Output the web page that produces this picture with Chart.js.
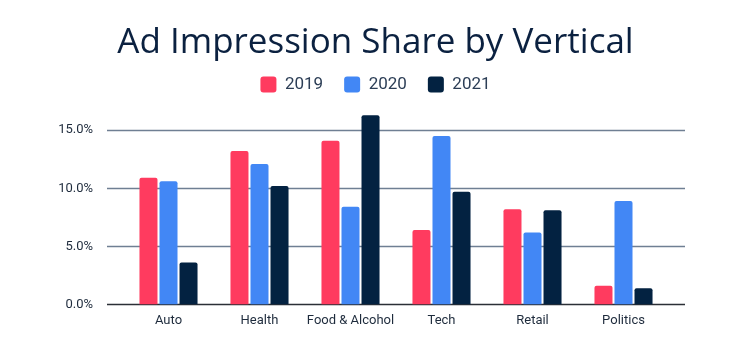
<!DOCTYPE html>
<html>
<head>
<meta charset="utf-8">
<script src="https://cdn.jsdelivr.net/npm/chart.js@4/dist/chart.umd.min.js"></script>
<style>
  body { margin: 0; background: #fff; }
  #wrap { width: 751px; height: 350px; }
</style>
</head>
<body>
<div id="wrap"><canvas id="impressionChart" width="751" height="350"></canvas></div>
<script>
const categories = ["Auto", "Health", "Food & Alcohol", "Tech", "Retail", "Politics"];
const share2019 = [10.9, 13.2, 14.1, 6.4, 8.2, 1.6];
const share2020 = [10.6, 12.1, 8.4, 14.5, 6.2, 8.9];
const share2021 = [3.6, 10.2, 16.3, 9.7, 8.1, 1.4];
const yTickValues = [0, 5, 10, 15];

// y grid lines run a bit past the bar area on both sides
const wideGrid = {
    id: "wideGrid",
    beforeDatasetsDraw(chart) {
        const ctx = chart.ctx;
        const area = chart.chartArea;
        const y = chart.scales.y;
        ctx.save();
        yTickValues.forEach(function(v) {
            const py = Math.round(y.getPixelForValue(v)) + 0.5;
            ctx.strokeStyle = v === 0 ? "#2b2f36" : "#6f7f93";
            ctx.lineWidth = 1.4;
            ctx.beginPath();
            ctx.moveTo(area.left - 16, py);
            ctx.lineTo(area.right + 16, py);
            ctx.stroke();
        });
        ctx.restore();
    }
};

const ctx = document.getElementById("impressionChart").getContext("2d");
new Chart(ctx, {
    type: "bar",
    data: {
        labels: categories,
        datasets: [
            { label: "2019", data: share2019, backgroundColor: "#ff3b5f" },
            { label: "2020", data: share2020, backgroundColor: "#4287f5" },
            { label: "2021", data: share2021, backgroundColor: "#032241" }
        ]
    },
    options: {
        responsive: false,
        animation: false,
        layout: { padding: { left: 0, right: 0, top: 0, bottom: 20 } },
        datasets: {
            bar: { categoryPercentage: 0.66, barPercentage: 0.9, borderRadius: 2, borderSkipped: "bottom" }
        },
        plugins: {
            title: {
                display: true,
                text: "Ad Impression Share by Vertical",
                color: "#0b2140",
                font: { family: "Open Sans", size: 35, weight: "500", lineHeight: 1 },
                padding: { top: 26, bottom: -6 }
            },
            legend: {
                labels: {
                    color: "#2c3e56",
                    font: { family: "Roboto", size: 17 },
                    boxWidth: 16,
                    boxHeight: 16,
                    padding: 21,
                    useBorderRadius: true,
                    borderRadius: 3
                }
            },
            tooltip: { enabled: false }
        },
        scales: {
            x: {
                grid: { display: false },
                border: { display: false },
                ticks: {
                    color: "#1e2b3c",
                    font: { family: "Roboto", size: 13 },
                    padding: 1,
                    maxRotation: 0,
                    autoSkip: false
                }
            },
            // empty top axis, only adds a gap under the legend
            xTop: {
                position: "top",
                grid: { display: false },
                border: { display: false },
                ticks: { display: false },
                afterFit(scale) { scale.height = 4; }
            },
            y: {
                min: 0,
                max: 17,
                grid: { display: false },
                border: { display: false },
                afterBuildTicks(scale) {
                    scale.ticks = yTickValues.map(v => ({ value: v }));
                },
                afterFit(scale) { scale.width = 123; },
                ticks: {
                    color: "#1e2b3c",
                    font: { family: "Roboto", size: 13 },
                    padding: 22,
                    callback: v => v.toFixed(1) + "%"
                }
            },
            // empty right axis, only reserves the right margin
            yRight: {
                position: "right",
                grid: { display: false },
                border: { display: false },
                ticks: { display: false },
                afterFit(scale) { scale.width = 82; }
            }
        }
    },
    plugins: [wideGrid]
});
</script>
</body>
</html>
